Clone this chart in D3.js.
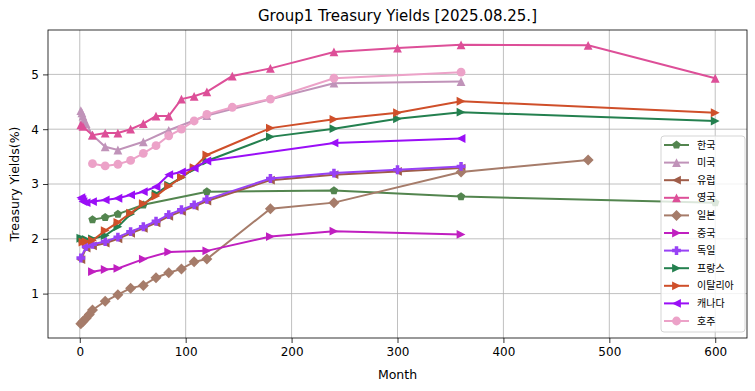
<!DOCTYPE html>
<html>
<head>
<meta charset="utf-8">
<script src="https://cdn.jsdelivr.net/npm/d3@7"></script>
<style>
  body { margin: 0; background: #fff; }
  svg text { font-family: "DejaVu Sans", sans-serif; fill: #000; }
</style>
</head>
<body>
<div id="chart"></div>
<script>
// Yield curves, months -> yield (%)
const koreaMonths = [12, 24, 36, 60, 120, 240, 360, 600];
const koreaYields = [2.35, 2.39, 2.45, 2.62, 2.86, 2.88, 2.77, 2.66];

const usMonths = [1, 2, 3, 4, 6, 12, 24, 36, 60, 84, 120, 240, 360];
const usYields = [4.34, 4.30, 4.24, 4.18, 4.10, 3.89, 3.68, 3.62, 3.77, 3.98, 4.25, 4.84, 4.87];

const europeMonths = [1, 6, 12, 24, 36, 48, 60, 72, 84, 96, 108, 120, 180, 240, 300, 360];
const europeYields = [1.62, 1.83, 1.87, 1.92, 2.00, 2.10, 2.19, 2.29, 2.41, 2.50, 2.59, 2.69, 3.07, 3.17, 3.23, 3.29];

const ukMonths = [1, 3, 12, 24, 36, 48, 60, 72, 84, 96, 108, 120, 144, 180, 240, 300, 360, 480, 600];
const ukYields = [4.08, 4.05, 3.89, 3.93, 3.93, 4.00, 4.10, 4.24, 4.24, 4.55, 4.60, 4.68, 4.97, 5.11, 5.41, 5.48, 5.54, 5.53, 4.93];

const japanMonths = [1, 3, 6, 9, 12, 24, 36, 48, 60, 72, 84, 96, 108, 120, 180, 240, 360, 480];
const japanYields = [0.45, 0.49, 0.55, 0.62, 0.70, 0.86, 0.98, 1.10, 1.15, 1.29, 1.38, 1.45, 1.58, 1.63, 2.55, 2.66, 3.22, 3.44];

const chinaMonths = [12, 24, 36, 60, 84, 120, 180, 240, 360];
const chinaYields = [1.40, 1.44, 1.46, 1.63, 1.76, 1.78, 2.04, 2.14, 2.08];

const germanyMonths = [1, 6, 12, 24, 36, 48, 60, 72, 84, 96, 108, 120, 180, 240, 300, 360];
const germanyYields = [1.65, 1.86, 1.90, 1.95, 2.03, 2.13, 2.22, 2.32, 2.44, 2.53, 2.62, 2.72, 3.10, 3.20, 3.26, 3.32];

const franceMonths = [1, 3, 6, 12, 24, 36, 48, 60, 72, 84, 96, 108, 120, 180, 240, 300, 360, 600];
const franceYields = [2.01, 2.00, 1.99, 2.00, 2.06, 2.22, 2.45, 2.62, 2.82, 2.98, 3.12, 3.28, 3.42, 3.86, 4.01, 4.19, 4.31, 4.15];

const italyMonths = [3, 6, 12, 24, 36, 48, 60, 72, 84, 96, 108, 120, 180, 240, 300, 360, 600];
const italyYields = [1.94, 1.95, 1.97, 2.15, 2.30, 2.47, 2.64, 2.78, 2.96, 3.12, 3.30, 3.53, 4.02, 4.18, 4.30, 4.51, 4.30];

const canadaMonths = [1, 2, 3, 6, 12, 24, 36, 48, 60, 72, 84, 96, 108, 120, 240, 360];
const canadaYields = [2.75, 2.72, 2.68, 2.66, 2.68, 2.71, 2.74, 2.80, 2.86, 2.95, 3.17, 3.22, 3.29, 3.42, 3.75, 3.83];

const australiaMonths = [12, 24, 36, 48, 60, 72, 84, 96, 108, 120, 144, 180, 240, 360];
const australiaYields = [3.37, 3.33, 3.36, 3.43, 3.56, 3.70, 3.88, 4.00, 4.15, 4.27, 4.40, 4.55, 4.93, 5.04];

const seriesNames = ['한국', '미국', '유럽', '영국', '일본', '중국', '독일', '프랑스', '이탈리아', '캐나다', '호주'];
const seriesColors = ['#53854f', '#c093b9', '#9f5c48', '#dd4f98', '#a67c6a', '#c01fc0', '#9842f5', '#24804f', '#cf4f2a', '#9a0ef7', '#eca2c8'];
const seriesMarkers = ['pentagon', 'triUp', 'triLeft', 'triUp', 'diamond', 'triRight', 'plus', 'triRight', 'triRight', 'triLeft', 'circle'];
const seriesMonths = [koreaMonths, usMonths, europeMonths, ukMonths, japanMonths, chinaMonths, germanyMonths, franceMonths, italyMonths, canadaMonths, australiaMonths];
const seriesYields = [koreaYields, usYields, europeYields, ukYields, japanYields, chinaYields, germanyYields, franceYields, italyYields, canadaYields, australiaYields];

const xTicks = [0, 100, 200, 300, 400, 500, 600];
const yTicks = [1, 2, 3, 4, 5];

const width = 755, height = 391;
const margin = { top: 30, right: 8, bottom: 53, left: 48 };

const svg = d3.select('#chart').append('svg')
  .attr('width', width)
  .attr('height', height);

const x = d3.scaleLinear().domain([-30, 630]).range([margin.left, width - margin.right]);
const y = d3.scaleLinear().domain([0.19, 5.81]).range([height - margin.bottom, margin.top]);

// marker shapes, roughly like matplotlib's
function markerPath(type, r) {
  const p = d3.path();
  if (type === 'circle') {
    p.arc(0, 0, r, 0, 2 * Math.PI);
  } else if (type === 'triUp') {
    p.moveTo(0, -r); p.lineTo(-r, r); p.lineTo(r, r);
  } else if (type === 'triLeft') {
    p.moveTo(-r, 0); p.lineTo(r, -r); p.lineTo(r, r);
  } else if (type === 'triRight') {
    p.moveTo(r, 0); p.lineTo(-r, -r); p.lineTo(-r, r);
  } else if (type === 'diamond') {
    const d = r * 1.25;
    p.moveTo(0, -d); p.lineTo(d, 0); p.lineTo(0, d); p.lineTo(-d, 0);
  } else if (type === 'pentagon') {
    for (let i = 0; i < 5; i++) {
      const a = -Math.PI / 2 + i * 2 * Math.PI / 5;
      if (i === 0) p.moveTo(r * Math.cos(a), r * Math.sin(a));
      else p.lineTo(r * Math.cos(a), r * Math.sin(a));
    }
  } else if (type === 'plus') {
    const t = r * 0.4;
    p.moveTo(-t, -r); p.lineTo(t, -r); p.lineTo(t, -t); p.lineTo(r, -t); p.lineTo(r, t);
    p.lineTo(t, t); p.lineTo(t, r); p.lineTo(-t, r); p.lineTo(-t, t); p.lineTo(-r, t);
    p.lineTo(-r, -t); p.lineTo(-t, -t);
  }
  p.closePath();
  return p.toString();
}

// grid
svg.append('g')
  .selectAll('line.xg')
  .data(xTicks)
  .join('line')
  .attr('x1', d => x(d)).attr('x2', d => x(d))
  .attr('y1', margin.top).attr('y2', height - margin.bottom)
  .attr('stroke', '#b0b0b0').attr('stroke-width', 0.8);

svg.append('g')
  .selectAll('line.yg')
  .data(yTicks)
  .join('line')
  .attr('x1', margin.left).attr('x2', width - margin.right)
  .attr('y1', d => y(d)).attr('y2', d => y(d))
  .attr('stroke', '#b0b0b0').attr('stroke-width', 0.8);

// series
const line = d3.line().x(d => x(d[0])).y(d => y(d[1]));
const markerR = 4.4;

seriesNames.forEach((name, i) => {
  const pts = seriesMonths[i].map((m, j) => [m, seriesYields[i][j]]);
  const g = svg.append('g');
  g.append('path')
    .attr('d', line(pts))
    .attr('fill', 'none')
    .attr('stroke', seriesColors[i])
    .attr('stroke-width', 2);
  g.selectAll('path.mk')
    .data(pts)
    .join('path')
    .attr('class', 'mk')
    .attr('transform', d => `translate(${x(d[0])},${y(d[1])})`)
    .attr('d', markerPath(seriesMarkers[i], markerR))
    .attr('fill', seriesColors[i]);
});

// axes
const xAxis = svg.append('g')
  .attr('transform', `translate(0,${height - margin.bottom})`)
  .call(d3.axisBottom(x).tickValues(xTicks).tickFormat(d3.format('d')).tickSize(5).tickPadding(4));
const yAxis = svg.append('g')
  .attr('transform', `translate(${margin.left},0)`)
  .call(d3.axisLeft(y).tickValues(yTicks).tickFormat(d3.format('d')).tickSize(5).tickPadding(4));

[xAxis, yAxis].forEach(a => {
  a.select('.domain').remove();
  a.selectAll('text').style('font-size', '12px').style('font-family', '"DejaVu Sans", sans-serif').attr('fill', '#000');
  a.selectAll('line').attr('stroke', '#000').attr('stroke-width', 0.8);
});

// frame
svg.append('rect')
  .attr('x', margin.left).attr('y', margin.top)
  .attr('width', width - margin.left - margin.right)
  .attr('height', height - margin.top - margin.bottom)
  .attr('fill', 'none')
  .attr('stroke', '#000')
  .attr('stroke-width', 0.8);

// labels
svg.append('text')
  .attr('x', (margin.left + width - margin.right) / 2)
  .attr('y', 21)
  .attr('text-anchor', 'middle')
  .style('font-size', '15px')
  .text('Group1 Treasury Yields [2025.08.25.]');

svg.append('text')
  .attr('x', (margin.left + width - margin.right) / 2)
  .attr('y', 379)
  .attr('text-anchor', 'middle')
  .style('font-size', '12.5px')
  .text('Month');

svg.append('text')
  .attr('transform', `translate(19,${(margin.top + height - margin.bottom) / 2}) rotate(-90)`)
  .attr('text-anchor', 'middle')
  .style('font-size', '12.5px')
  .text('Treasury Yields(%)');

// legend
const legX = 661, legY = 136, legW = 84, legH = 196, rowH = 17.6;
const legend = svg.append('g').attr('transform', `translate(${legX},${legY})`);
legend.append('rect')
  .attr('width', legW).attr('height', legH)
  .attr('rx', 3)
  .attr('fill', 'rgba(255,255,255,0.8)')
  .attr('stroke', '#d5d5d5');

seriesNames.forEach((name, i) => {
  const row = legend.append('g').attr('transform', `translate(0,${9 + i * rowH})`);
  row.append('line')
    .attr('x1', 3).attr('x2', 28)
    .attr('stroke', seriesColors[i]).attr('stroke-width', 2);
  row.append('path')
    .attr('transform', 'translate(15.5,0)')
    .attr('d', markerPath(seriesMarkers[i], markerR))
    .attr('fill', seriesColors[i]);
  row.append('text')
    .attr('x', 36).attr('y', 3.5)
    .style('font-family', '"Noto Sans CJK KR", sans-serif')
    .style('font-size', '10px')
    .text(name);
});
</script>
</body>
</html>
